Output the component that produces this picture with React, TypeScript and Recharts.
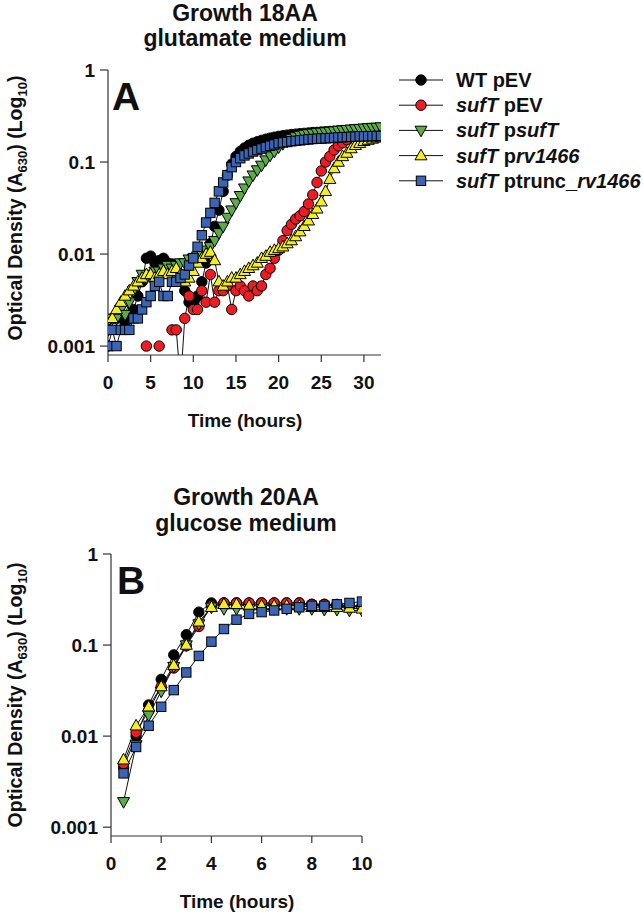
import React from 'react';
import { LineChart, Line, XAxis, YAxis } from 'recharts';

// ---------- Panel A: Growth 18AA glutamate medium ----------
const timeA = [0, 0.5, 1, 1.5, 2, 2.5, 3, 3.5, 4, 4.5, 5, 5.5, 6, 6.5, 7, 7.5, 8, 8.5, 9, 9.5, 10, 10.5, 11, 11.5, 12, 12.5, 13, 13.5, 14, 14.5, 15, 15.5, 16, 16.5, 17, 17.5, 18, 18.5, 19, 19.5, 20, 20.5, 21, 21.5, 22, 22.5, 23, 23.5, 24, 24.5, 25, 25.5, 26, 26.5, 27, 27.5, 28, 28.5, 29, 29.5, 30, 30.5, 31, 31.5, 32];

const wtPevA = [0.0015, 0.002, 0.002, 0.0022, 0.0018, 0.002, 0.0025, 0.0035, 0.005, 0.009, 0.0095, 0.008, 0.0085, 0.009, 0.008, 0.0078, 0.007, 0.006, 0.004, 0.003, 0.003, 0.0035, 0.005, 0.008, 0.013, 0.02, 0.03, 0.048, 0.072, 0.095, 0.115, 0.13, 0.142, 0.152, 0.16, 0.166, 0.172, 0.177, 0.182, 0.186, 0.19, 0.193, 0.196, 0.199, 0.201, 0.203, 0.205, 0.207, 0.209, 0.21, 0.212, 0.213, 0.215, 0.216, 0.218, 0.219, 0.22, 0.222, 0.223, 0.224, 0.225, 0.226, 0.227, 0.228, 0.229];

const sufPevA = [0.001, null, null, null, null, null, null, null, null, 0.001, null, null, 0.001, null, null, 0.0015, 0.0015, 0.0004, 0.002, 0.0035, 0.0025, 0.0025, 0.004, 0.003, 0.006, 0.003, 0.004, 0.004, 0.0045, 0.0025, 0.004, 0.0045, 0.004, 0.0035, 0.0045, 0.004, 0.0045, 0.006, 0.007, 0.009, 0.011, 0.014, 0.018, 0.021, 0.024, 0.026, 0.029, 0.035, 0.044, 0.06, 0.08, 0.1, 0.115, 0.135, 0.15, 0.162, 0.175, 0.188, 0.197, 0.203, 0.208, 0.212, 0.216, 0.219, 0.221];

const sufPsufA = [0.0015, 0.002, 0.002, 0.0025, 0.0022, 0.003, 0.004, 0.005, 0.006, 0.0055, 0.006, 0.0065, 0.0065, 0.007, 0.0075, 0.007, 0.0075, 0.008, 0.008, 0.0088, 0.009, 0.0095, 0.01, 0.011, 0.012, 0.014, 0.017, 0.02, 0.025, 0.03, 0.036, 0.043, 0.052, 0.062, 0.072, 0.082, 0.092, 0.105, 0.118, 0.13, 0.145, 0.158, 0.17, 0.18, 0.188, 0.194, 0.199, 0.202, 0.205, 0.208, 0.21, 0.212, 0.215, 0.217, 0.22, 0.222, 0.225, 0.227, 0.229, 0.231, 0.233, 0.235, 0.237, 0.238, 0.24];

const sufPrvA = [0.0015, 0.002, 0.0025, 0.003, 0.0035, 0.004, 0.0045, 0.005, 0.0055, 0.006, 0.006, 0.0055, 0.006, 0.0065, 0.006, 0.0065, 0.007, 0.006, 0.005, 0.0055, 0.0065, 0.008, 0.009, 0.01, 0.0105, 0.0085, 0.005, 0.0045, 0.005, 0.0055, 0.0055, 0.006, 0.0065, 0.007, 0.0075, 0.008, 0.009, 0.0095, 0.0105, 0.011, 0.0115, 0.012, 0.013, 0.014, 0.0155, 0.0175, 0.02, 0.023, 0.027, 0.031, 0.037, 0.048, 0.065, 0.085, 0.1, 0.115, 0.125, 0.14, 0.152, 0.16, 0.168, 0.173, 0.178, 0.183, 0.187];

const sufTruncA = [0.001, 0.0015, 0.001, 0.0015, 0.0015, 0.0015, 0.002, 0.002, 0.0025, 0.003, 0.0035, 0.0045, 0.005, 0.0035, 0.0035, 0.005, 0.005, 0.0055, 0.006, 0.0075, 0.009, 0.012, 0.016, 0.022, 0.028, 0.036, 0.048, 0.06, 0.072, 0.088, 0.1, 0.11, 0.118, 0.124, 0.13, 0.135, 0.14, 0.145, 0.15, 0.155, 0.16, 0.163, 0.165, 0.168, 0.17, 0.172, 0.174, 0.176, 0.178, 0.179, 0.18, 0.181, 0.182, 0.183, 0.185, 0.186, 0.187, 0.188, 0.189, 0.19, 0.19, 0.191, 0.191, 0.192, 0.192];

// ---------- Panel B: Growth 20AA glucose medium ----------
const timeB = [0.5, 1, 1.5, 2, 2.5, 3, 3.5, 4, 4.5, 5, 5.5, 6, 6.5, 7, 7.5, 8, 8.5, 9, 9.5, 10];
const wtPevB = [0.0045, 0.01, 0.022, 0.042, 0.078, 0.13, 0.23, 0.29, 0.29, 0.29, 0.29, 0.29, 0.29, 0.29, 0.29, 0.28, 0.28, 0.28, 0.27, 0.27];
const sufPevB = [0.005, 0.011, 0.019, 0.035, 0.056, 0.098, 0.16, 0.27, 0.29, 0.29, 0.29, 0.29, 0.29, 0.29, 0.29, 0.28, 0.28, 0.27, 0.27, 0.26];
const sufPsufB = [0.0019, 0.008, 0.017, 0.031, 0.058, 0.1, 0.17, 0.26, 0.25, 0.25, 0.25, 0.25, 0.25, 0.25, 0.25, 0.25, 0.245, 0.245, 0.24, 0.24];
const sufPrvB = [0.0055, 0.013, 0.021, 0.035, 0.06, 0.1, 0.18, 0.26, 0.28, 0.28, 0.27, 0.27, 0.27, 0.27, 0.27, 0.26, 0.26, 0.26, 0.255, 0.25];
const sufTruncB = [0.0039, 0.0076, 0.013, 0.021, 0.032, 0.05, 0.076, 0.109, 0.15, 0.19, 0.22, 0.23, 0.24, 0.25, 0.26, 0.27, 0.27, 0.28, 0.29, 0.3];

// ---------- Axis ticks ----------
const yTicks = [0.001, 0.01, 0.1, 1];
const xTicksA = [0, 5, 10, 15, 20, 25, 30];
const xTicksB = [0, 2, 4, 6, 8, 10];

const dataA = timeA.map((t, i) => ({
  t,
  wt: wtPevA[i],
  pev: sufPevA[i],
  psuf: sufPsufA[i],
  prv: sufPrvA[i],
  trunc: sufTruncA[i],
}));

const dataB = timeB.map((t, i) => ({
  t,
  wt: wtPevB[i],
  pev: sufPevB[i],
  psuf: sufPsufB[i],
  prv: sufPrvB[i],
  trunc: sufTruncB[i],
}));

type Shape = 'circle' | 'square' | 'up' | 'down';

const SERIES: { key: string; shape: Shape; fill: string }[] = [
  { key: 'wt', shape: 'circle', fill: '#000000' },
  { key: 'pev', shape: 'circle', fill: '#ec1c24' },
  { key: 'psuf', shape: 'down', fill: '#5aac46' },
  { key: 'prv', shape: 'up', fill: '#f5ee1b' },
  { key: 'trunc', shape: 'square', fill: '#3c64b4' },
];

const FONT = '"Liberation Sans", Arial, Helvetica, sans-serif';
const AXIS = '#333333';

function Marker({ shape, cx, cy, fill }: { shape: Shape; cx: number; cy: number; fill: string }) {
  const common = { fill, stroke: '#000', strokeWidth: 1 };
  if (shape === 'circle') return <circle cx={cx} cy={cy} r={5.2} {...common} />;
  if (shape === 'square') return <rect x={cx - 4.7} y={cy - 4.7} width={9.4} height={9.4} {...common} />;
  if (shape === 'up')
    return <polygon points={`${cx},${cy - 6.4} ${cx + 6},${cy + 4.2} ${cx - 6},${cy + 4.2}`} {...common} />;
  return <polygon points={`${cx},${cy + 6.4} ${cx + 6},${cy - 4.2} ${cx - 6},${cy - 4.2}`} {...common} />;
}

const makeDot = (shape: Shape, fill: string) => (p: any) => {
  const k = `dot-${p.index}`;
  if (p.cx == null || p.cy == null || p.value == null || Number.isNaN(p.cy)) return <g key={k} />;
  return (
    <g key={k}>
      <Marker shape={shape} cx={p.cx} cy={p.cy} fill={fill} />
    </g>
  );
};

const tickStyle = { fontSize: 19, fontWeight: 700, fill: '#111', fontFamily: FONT };

function Panel({
  data,
  xDomain,
  xTicks,
  top,
  width,
  height,
  margin,
  yWidth,
}: {
  data: any[];
  xDomain: [number, number];
  xTicks: number[];
  top: number;
  width: number;
  height: number;
  margin: { top: number; right: number; bottom: number; left: number };
  yWidth: number;
}) {
  return (
    <div style={{ position: 'absolute', left: 0, top }}>
      <LineChart width={width} height={height} data={data} margin={margin}>
        <XAxis
          dataKey="t"
          type="number"
          domain={xDomain}
          ticks={xTicks}
          interval={0}
          allowDataOverflow
          height={30}
          tickSize={7}
          tickMargin={14}
          tick={tickStyle}
          stroke={AXIS}
          axisLine={{ stroke: AXIS, strokeWidth: 1.2 }}
          tickLine={{ stroke: AXIS, strokeWidth: 1.2 }}
        />
        <XAxis
          xAxisId="top"
          orientation="top"
          dataKey="t"
          type="number"
          domain={xDomain}
          height={0}
          tick={false}
          tickLine={false}
          axisLine={{ stroke: AXIS, strokeWidth: 1.2 }}
        />
        <YAxis
          type="number"
          scale="log"
          domain={[0.0008, 1]}
          ticks={yTicks}
          interval={0}
          allowDataOverflow
          width={yWidth}
          tickSize={8}
          tickMargin={5}
          tick={tickStyle}
          tickFormatter={(v: number) => String(v)}
          axisLine={{ stroke: AXIS, strokeWidth: 1.2 }}
          tickLine={{ stroke: AXIS, strokeWidth: 1.2 }}
        />
        <YAxis
          yAxisId="right"
          orientation="right"
          type="number"
          domain={[0, 1]}
          width={0}
          tick={false}
          tickLine={false}
          axisLine={{ stroke: AXIS, strokeWidth: 1.2 }}
        />
        {SERIES.map((s) => (
          <Line
            key={s.key}
            dataKey={s.key}
            type="linear"
            stroke="#111"
            strokeWidth={1}
            connectNulls={false}
            isAnimationActive={false}
            dot={makeDot(s.shape, s.fill)}
            activeDot={false}
          />
        ))}
      </LineChart>
    </div>
  );
}

function YLabel({ cy }: { cy: number }) {
  return (
    <text
      transform="rotate(-90)"
      x={-cy}
      y={22}
      textAnchor="middle"
      fontSize={19.5}
      fontWeight={700}
      fontFamily={FONT}
      fill="#111"
    >
      Optical Density (A
      <tspan dy={5} fontSize={13}>630</tspan>
      <tspan dy={-5}>) (Log</tspan>
      <tspan dy={5} fontSize={13}>10</tspan>
      <tspan dy={-5}>)</tspan>
    </text>
  );
}

const LEGEND: { shape: Shape; fill: string; parts: [string, boolean][] }[] = [
  { shape: 'circle', fill: '#000000', parts: [['WT pEV', false]] },
  { shape: 'circle', fill: '#ec1c24', parts: [['sufT', true], [' pEV', false]] },
  { shape: 'down', fill: '#5aac46', parts: [['sufT', true], [' p', false], ['sufT', true]] },
  { shape: 'up', fill: '#f5ee1b', parts: [['sufT', true], [' p', false], ['rv1466', true]] },
  { shape: 'square', fill: '#3c64b4', parts: [['sufT', true], [' ptrunc_', false], ['rv1466', true]] },
];

function Overlay() {
  const txt = { fontFamily: FONT, fontWeight: 700, fill: '#111' } as const;
  return (
    <svg width={643} height={917} style={{ position: 'absolute', left: 0, top: 0, pointerEvents: 'none' }}>
      {/* Panel A titles */}
      <text x={245} y={21} textAnchor="middle" fontSize={23} {...txt}>Growth 18AA</text>
      <text x={245} y={46} textAnchor="middle" fontSize={23} {...txt}>glutamate medium</text>
      <text x={112} y={110} fontSize={39} {...txt}>A</text>
      <YLabel cy={208} />
      <text x={245} y={427} textAnchor="middle" fontSize={19} {...txt}>Time (hours)</text>

      {/* Panel B titles */}
      <text x={246} y={505} textAnchor="middle" fontSize={23} {...txt}>Growth 20AA</text>
      <text x={246} y={531} textAnchor="middle" fontSize={23} {...txt}>glucose medium</text>
      <text x={117} y={594} fontSize={39} {...txt}>B</text>
      <YLabel cy={695} />
      <text x={237} y={908} textAnchor="middle" fontSize={19} {...txt}>Time (hours)</text>

      {/* Legend */}
      {LEGEND.map((item, i) => {
        const cy = 80 + i * 25.2;
        return (
          <g key={i}>
            <line x1={399} x2={443} y1={cy} y2={cy} stroke="#111" strokeWidth={1} />
            <Marker shape={item.shape} cx={421} cy={cy} fill={item.fill} />
            <text x={456} y={cy + 7} fontSize={20} {...txt}>
              {item.parts.map(([s, it], j) => (
                <tspan key={j} fontStyle={it ? 'italic' : 'normal'}>{s}</tspan>
              ))}
            </text>
          </g>
        );
      })}
    </svg>
  );
}

export default function App() {
  return (
    <div style={{ position: 'absolute', left: 0, top: 0, width: 643, height: 917, background: '#fff', overflow: 'hidden' }}>
      <Panel
        data={dataA}
        xDomain={[0, 32]}
        xTicks={xTicksA}
        top={0}
        width={400}
        height={440}
        margin={{ top: 70, right: 19, bottom: 55, left: 0 }}
        yWidth={108}
      />
      <Panel
        data={dataB}
        xDomain={[0, 10]}
        xTicks={xTicksB}
        top={480}
        width={400}
        height={437}
        margin={{ top: 74, right: 38, bottom: 51, left: 0 }}
        yWidth={111}
      />
      <Overlay />
    </div>
  );
}
